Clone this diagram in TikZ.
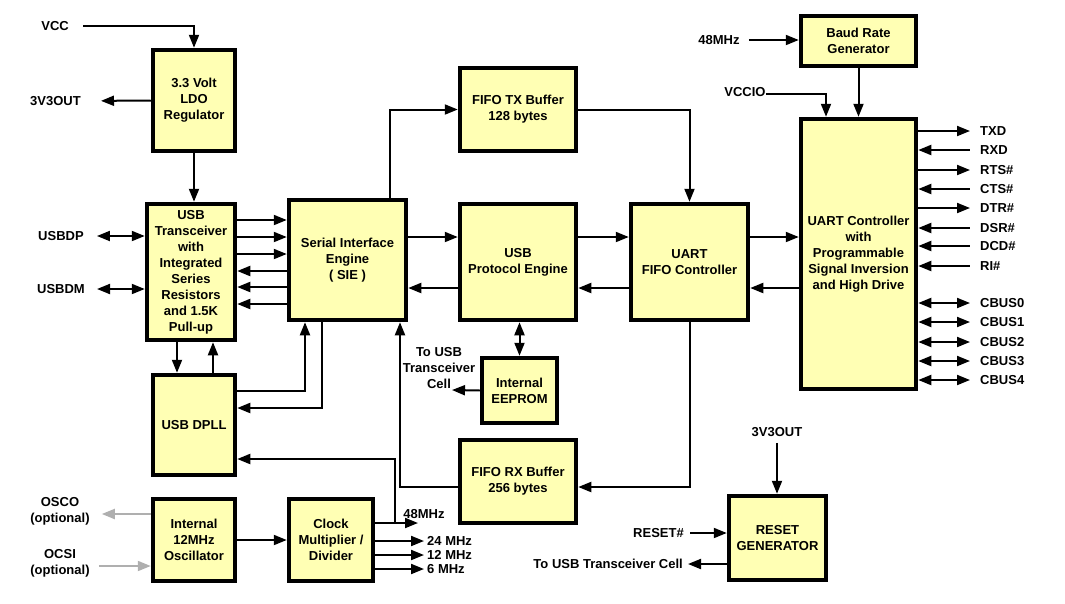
\documentclass[tikz,border=0pt]{standalone}
\usepackage{fontspec}
\setmainfont{Liberation Sans}
\usepackage{tikz}
\usetikzlibrary{arrows.meta,positioning,calc}
\definecolor{boxfill}{RGB}{255,255,180}
\definecolor{optgray}{RGB}{175,175,175}
\tikzset{
  blk/.style={draw, line width=4.5pt, fill=boxfill, align=center, inner sep=0pt},
  lbl/.style={inner sep=0pt, align=center},
  arr/.style={line width=2pt, -{Triangle[length=13pt,width=10pt]}},
  rarr/.style={line width=2pt, {Triangle[length=13pt,width=10pt]}-},
  darr/.style={line width=2pt, {Triangle[length=13pt,width=10pt]}-{Triangle[length=13pt,width=10pt]}},
  garr/.style={arr, draw=optgray}
}

\begin{document}
\begin{tikzpicture}[x=1pt, y=-1pt, font=\fontsize{13}{16}\selectfont\bfseries]
      \useasboundingbox (0,0) rectangle (1065,603);
      \node[blk, minimum width=82pt, minimum height=101pt] (ldo) at (194,100.5) {3.3 Volt\\LDO\\Regulator};
      \node[blk, minimum width=88pt, minimum height=136pt] (xcvr) at (191,272) {USB\\Transceiver\\with\\Integrated\\Series\\Resistors\\and 1.5K\\Pull-up};
      \node[blk, minimum width=117pt, minimum height=120pt] (sie) at (347.5,260) {Serial Interface\\Engine\\( SIE )};
      \node[blk, minimum width=116pt, minimum height=83pt] (txbuf) at (518,109.5) {FIFO TX Buffer\\128 bytes};
      \node[blk, minimum width=116pt, minimum height=116pt] (pe) at (518,262) {USB\\Protocol Engine};
      \node[blk, minimum width=117pt, minimum height=116pt] (ufifo) at (689.5,262) {UART\\FIFO Controller};
      \node[blk, minimum width=115pt, minimum height=270pt] (uart) at (858.5,254) {UART Controller\\with\\Programmable\\Signal Inversion\\and High Drive};
      \node[blk, minimum width=115pt, minimum height=50pt] (baud) at (858.5,41) {Baud Rate\\Generator};
      \node[blk, minimum width=75pt, minimum height=65pt] (eeprom) at (519.5,390.5) {Internal\\EEPROM};
      \node[blk, minimum width=116pt, minimum height=83pt] (rxbuf) at (518,481.5) {FIFO RX Buffer\\256 bytes};
      \node[blk, minimum width=82pt, minimum height=100pt] (dpll) at (194,425) {USB DPLL};
      \node[blk, minimum width=82pt, minimum height=82pt] (osc) at (194,540) {Internal\\12MHz\\Oscillator};
      \node[blk, minimum width=84pt, minimum height=82pt] (clk) at (331,540) {Clock\\Multiplier /\\Divider};
      \node[blk, minimum width=97pt, minimum height=84pt] (rst) at (777.5,538) {RESET\\GENERATOR};

      \node[lbl, anchor=east] (vcc) at (69,26) {VCC};
      \node[lbl, anchor=east] (v3out) at (81,101) {3V3OUT};
      \node[lbl] (usbdp) at (61,236) {USBDP};
      \node[lbl] (usbdm) at (61,289) {USBDM};
      \node[lbl] (osco) at (60,511) {OSCO\\(optional)};
      \node[lbl] (ocsi) at (60,563) {OCSI\\(optional)};
      \node[lbl] (l48) at (424,514) {48MHz};
      \node[lbl] (cell1) at (439,368) {To USB\\Transceiver\\Cell};
      \node[lbl] (b48) at (719,40) {48MHz};
      \node[lbl] (vccio) at (745,92) {VCCIO};
      \node[lbl] (v3r) at (777,432) {3V3OUT};
      \node[lbl, anchor=east] (rstn) at (684,533) {RESET\#};
      \node[lbl, anchor=east] (cell2) at (683,564) {To USB Transceiver Cell};
      \coordinate (cellin) at (452,390);
      \coordinate (c48) at (418,523);
      \coordinate (tap) at (395,523);

      \draw[arr, shorten <=14pt] (vcc.east) -| (ldo.north);
      \draw[arr, shorten >=20pt] (ldo.west) -- (v3out.east);
      \draw[arr] (ldo.south) -- (ldo.south |- xcvr.north);
      \draw[darr, shorten <=13pt] (usbdp.east) -- (xcvr.west |- usbdp);
      \draw[darr, shorten <=12pt] (usbdm.east) -- (xcvr.west |- usbdm);
      \foreach \y in {220,237,254} \draw[arr] (xcvr.east |- 0,\y) -- (sie.west |- 0,\y);
      \foreach \y in {271,287,304} \draw[arr] (sie.west |- 0,\y) -- (xcvr.east |- 0,\y);
      \draw[arr] (sie.north -| 390,0) |- (txbuf.west);
      \foreach \a/\b in {sie/pe,pe/ufifo,ufifo/uart} {
        \draw[arr] (\a.east |- 0,237) -- (\b.west |- 0,237);
        \draw[arr] (\b.west |- 0,288) -- (\a.east |- 0,288);
      }
      \draw[arr] (txbuf.east) -| (ufifo.north);
      \draw[arr] (ufifo.south) |- (rxbuf.east |- 0,487);
      \draw[arr] (rxbuf.west |- 0,487) -| (sie.south -| 400,0);
      \draw[darr] (eeprom.north) -- (eeprom.north |- pe.south);
      \draw[arr] (eeprom.west) -- (cellin);
      \draw[arr] (xcvr.south -| 177,0) -- (dpll.north -| 177,0);
      \draw[arr] (dpll.north -| 213,0) -- (xcvr.south -| 213,0);
      \draw[arr] (dpll.east |- 0,391) -| (sie.south -| 305,0);
      \draw[arr] (sie.south -| 322,0) |- (dpll.east |- 0,408);
      \draw[arr] (clk.east |- c48) -- (c48);
      \draw[arr] (tap) |- (dpll.east |- 0,459);
      \foreach \y/\t in {541/24 MHz,555/12 MHz,569/6 MHz} {
        \node[lbl, anchor=west] (f\y) at (427,\y) {\t};
        \draw[arr, shorten >=3pt] (clk.east |- f\y) -- (f\y.west);
      }
      \draw[arr] (osc.east) -- (clk.west);
      \draw[garr, shorten >=12pt] (osc.west |- 0,514) -- (osco.east |- 0,514);
      \draw[garr, shorten <=9pt] (ocsi.east |- 0,566) -- (osc.west |- 0,566);
      \draw[arr, shorten <=9pt] (b48.east) -- (baud.west |- b48);
      \draw[arr] (baud.south) -- (uart.north -| baud.south);
      \draw[arr] (vccio.east |- 0,94) -| (uart.north -| 826,0);
      \foreach \y/\t/\d in {131/TXD/arr,150/RXD/rarr,170/RTS\#/arr,189/CTS\#/rarr,208/DTR\#/arr,228/DSR\#/rarr,246/DCD\#/rarr,266/RI\#/rarr,303/CBUS0/darr,322/CBUS1/darr,342/CBUS2/darr,361/CBUS3/darr,380/CBUS4/darr} {
        \node[lbl, anchor=west] (s\y) at (980,\y) {\t};
        \draw[\d, shorten >=10pt] (uart.east |- s\y) -- (s\y.west);
      }
      \draw[arr, shorten <=6pt] (v3r.south) -- (rst.north -| v3r.south);
      \draw[arr, shorten <=6pt] (rstn.east) -- (rst.west |- rstn);
      \draw[arr, shorten >=5pt] (rst.west |- cell2) -- (cell2.east);
    \end{tikzpicture}
\end{document}
